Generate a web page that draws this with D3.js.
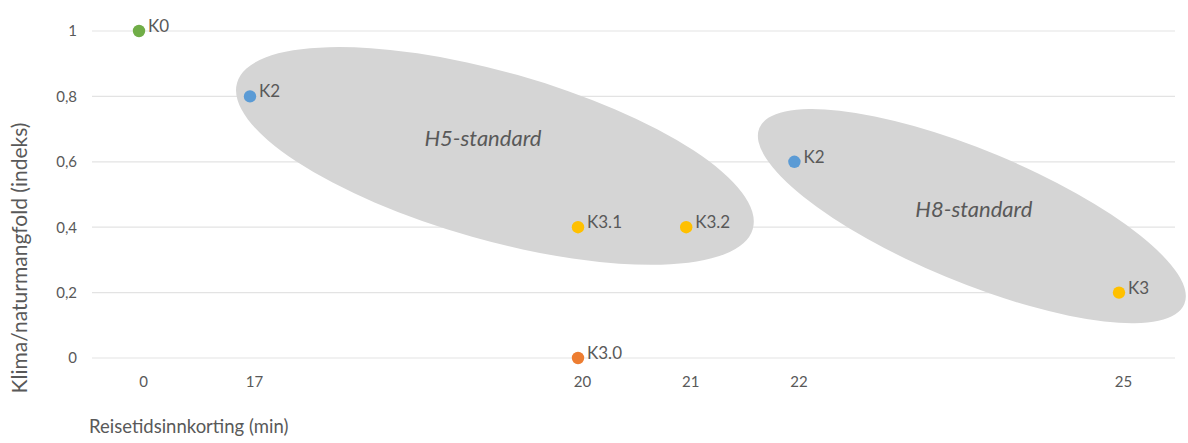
<!DOCTYPE html>
<html>
<head>
<meta charset="utf-8">
<script src="https://cdn.jsdelivr.net/npm/d3@7"></script>
<style>
  html, body { margin: 0; padding: 0; background: #fff; }
  svg { display: block; }
  text { font-family: Lato, "Open Sans", sans-serif; fill: #595959; }
</style>
</head>
<body>
<svg id="chart" width="1188" height="443"></svg>
<script>
// ---- data ----
const pointLabels = ["K0", "K2", "K3.1", "K3.2", "K3.0", "K2", "K3"];
const xValues     = [0, 17, 20, 21, 20, 22, 25];
const yValues     = [1, 0.8, 0.4, 0.4, 0, 0.6, 0.2];
const pointGroup  = ["K0", "K2", "K3", "K3", "K3.0", "K2", "K3"];
const xTickValues = [0, 17, 20, 21, 22, 25];
const yTickValues = [0, 0.2, 0.4, 0.6, 0.8, 1];
const groupNames  = ["H5-standard", "H8-standard"];
const groupCenterX = [19.24, 23.64];
const groupCenterY = [0.618, 0.434];

// ---- layout ----
const colors = { "K0": "#70ad47", "K2": "#5b9bd5", "K3": "#ffc000", "K3.0": "#ed7d31" };
const svg = d3.select("#chart");

// broken (piecewise) x axis as in the original
const x = d3.scaleLinear().domain([0, 17, 20, 25]).range([139, 250, 578, 1119]);
const y = d3.scaleLinear().domain([0, 1]).range([358, 31]);

const fmt = d => d3.format(".1f")(d).replace(".", ",").replace(/^0,0$/, "0").replace(/,0$/, "");

// gridlines
svg.append("g").selectAll("line").data(yTickValues).join("line")
  .attr("x1", 92).attr("x2", 1175)
  .attr("y1", d => y(d)).attr("y2", d => y(d))
  .attr("stroke", "#e3e3e3").attr("stroke-width", 1.2);

// y axis labels
const yAxis = d3.axisLeft(y).tickValues(yTickValues).tickFormat(fmt).tickSize(0).tickPadding(0);
const gy = svg.append("g").attr("transform", "translate(77,0)").call(yAxis);
gy.select(".domain").remove();
gy.selectAll("text").attr("font-size", 15).style("font-family", "Lato, sans-serif").attr("fill", "#595959");

// x axis labels
const xAxis = d3.axisBottom(x).tickValues(xTickValues).tickFormat(d => d).tickSize(0).tickPadding(0);
const gx = svg.append("g").attr("transform", "translate(4,376)").call(xAxis);
gx.select(".domain").remove();
gx.selectAll("text").attr("font-size", 15).style("font-family", "Lato, sans-serif").attr("fill", "#595959");

// ellipses (group annotations)
const ellSpec = [
  { rx: 268, ry: 84, angle: 15.8 },
  { rx: 230, ry: 66, angle: 22.5 }
];
const eg = svg.append("g");
groupNames.forEach((name, i) => {
  const cx = x(groupCenterX[i]), cy = y(groupCenterY[i]);
  eg.append("ellipse")
    .attr("cx", 0).attr("cy", 0)
    .attr("rx", ellSpec[i].rx).attr("ry", ellSpec[i].ry)
    .attr("transform", `translate(${cx},${cy}) rotate(${ellSpec[i].angle})`)
    .attr("fill", "#d5d5d5");
});
// group titles
const titleOffset = [[-12, -15], [2, -5]];
groupNames.forEach((name, i) => {
  svg.append("text")
    .attr("x", x(groupCenterX[i]) + titleOffset[i][0])
    .attr("y", y(groupCenterY[i]) + titleOffset[i][1])
    .attr("text-anchor", "middle").attr("dominant-baseline", "middle")
    .attr("font-size", 22).attr("font-style", "italic").attr("fill", "#404040")
    .text(name);
});

// points
const pts = pointLabels.map((l, i) => ({ label: l, x: xValues[i], y: yValues[i], g: pointGroup[i] }));
svg.append("g").selectAll("circle").data(pts).join("circle")
  .attr("cx", d => x(d.x)).attr("cy", d => y(d.y)).attr("r", 6.2)
  .attr("fill", d => colors[d.g]);
svg.append("g").selectAll("text").data(pts).join("text")
  .attr("x", d => x(d.x) + 9).attr("y", d => y(d.y) + 1)
  .attr("font-size", 17).attr("fill", "#404040")
  .text(d => d.label);

// axis titles
svg.append("text")
  .attr("transform", "translate(27,258) rotate(-90)")
  .attr("text-anchor", "middle").attr("font-size", 21)
  .text("Klima/naturmangfold (indeks)");
svg.append("text")
  .attr("x", 89).attr("y", 433)
  .attr("font-size", 18.5)
  .text("Reisetidsinnkorting (min)");
</script>
</body>
</html>
